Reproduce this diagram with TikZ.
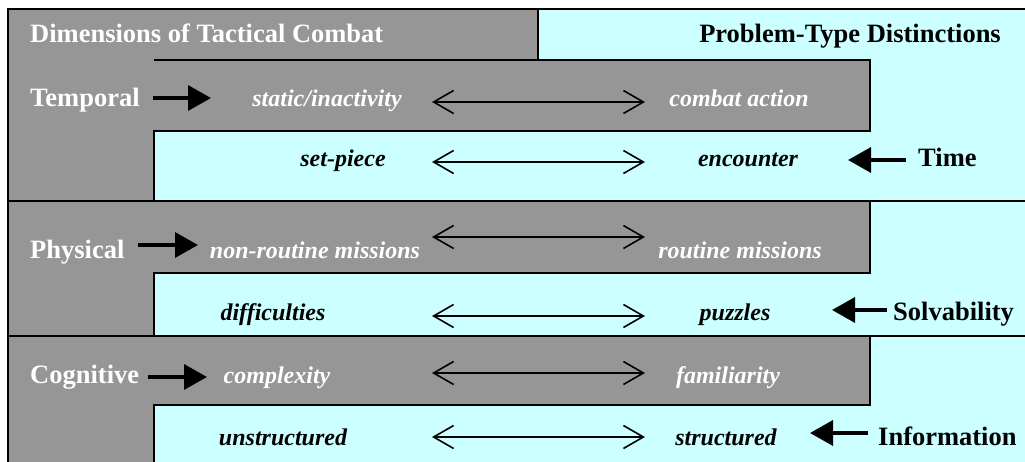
\documentclass[tikz,border=0pt]{standalone}
\usepackage{fontspec}
\setmainfont{Liberation Serif}
\usetikzlibrary{arrows.meta}
\definecolor{panelgray}{RGB}{150,150,150}
\definecolor{panelcyan}{RGB}{204,255,255}

\begin{document}
\begin{tikzpicture}[x=1pt,y=-1pt,
  dimlabel/.style={font=\fontsize{26.5}{30}\selectfont\bfseries, text=white, inner sep=0pt},
  typelabel/.style={font=\fontsize{26.5}{30}\selectfont\bfseries, text=black, inner sep=0pt},
  grayterm/.style={font=\fontsize{24}{28}\selectfont\bfseries\itshape, text=white, inner sep=0pt},
  cyanterm/.style={font=\fontsize{24}{28}\selectfont\bfseries\itshape, text=black, inner sep=0pt},
  cuearrow/.style={line width=3.5pt, -{Triangle[length=23pt,width=25pt]}},
  rangearrow/.style={line width=1.6pt, {Straight Barb[length=20pt,width=23pt]}-{Straight Barb[length=20pt,width=23pt]}},
  frameline/.style={line width=1.5pt}
]
\useasboundingbox (0,0) rectangle (1025,462);
\clip (0,0) rectangle (1025,462);

% panels
\fill[panelcyan] (8,9) rectangle (1040,480);
\fill[panelgray] (8,9) rectangle (538,60);
\fill[panelgray] (8,9) rectangle (154,480);
\fill[panelgray] (154,60) rectangle (870,131);
\fill[panelgray] (154,201) rectangle (870,273);
\fill[panelgray] (154,336) rectangle (870,405);

% outlines
\draw[frameline] (8,480) -- (8,9) -- (1040,9);
\draw[frameline] (538,9) -- (538,60);
\draw[frameline] (154,60) -- (870,60) -- (870,131) -- (154,131) -- (154,201);
\draw[frameline] (8,201) -- (1040,201);
\draw[frameline] (870,201) -- (870,273) -- (154,273) -- (154,336);
\draw[frameline] (8,336) -- (1040,336);
\draw[frameline] (870,336) -- (870,405) -- (154,405) -- (154,480);

% headings
\node[dimlabel, anchor=base west] (dims) at (30,43) {Dimensions of Tactical Combat};
\node[typelabel, anchor=base east] (types) at (1001,43) {Problem-Type Distinctions};

% temporal / time
\node[dimlabel, anchor=base west] (temporal) at (30,107) {Temporal};
\node[grayterm, anchor=base] (static) at (327,107) {static/inactivity};
\node[grayterm, anchor=base] (action) at (739,107) {combat action};
\node[cyanterm, anchor=base] (setpiece) at (343,167) {set-piece};
\node[cyanterm, anchor=base] (encounter) at (748,167) {encounter};
\node[typelabel, anchor=base west] (time) at (918,167) {Time};

% physical / solvability
\node[dimlabel, anchor=base west] (physical) at (30,259) {Physical};
\node[grayterm, anchor=base] (nonroutine) at (315,259) {non-routine missions};
\node[grayterm, anchor=base] (routine) at (740,259) {routine missions};
\node[cyanterm, anchor=base] (difficulties) at (273,320) {difficulties};
\node[cyanterm, anchor=base] (puzzles) at (735,320) {puzzles};
\node[typelabel, anchor=base west] (solvability) at (893,320) {Solvability};

% cognitive / information
\node[dimlabel, anchor=base west] (cognitive) at (30,383) {Cognitive};
\node[grayterm, anchor=base] (complexity) at (277,383) {complexity};
\node[grayterm, anchor=base] (familiarity) at (728,383) {familiarity};
\node[cyanterm, anchor=base] (unstructured) at (283,445) {unstructured};
\node[cyanterm, anchor=base] (structured) at (726,445) {structured};
\node[typelabel, anchor=base west] (information) at (878,445) {Information};

% arrow end points
\coordinate (tA) at (153,98);  \coordinate (tB) at (211,98);
\coordinate (pA) at (138,245); \coordinate (pB) at (198,245);
\coordinate (cA) at (148,377); \coordinate (cB) at (207,377);
\coordinate (timeA) at (906,160); \coordinate (timeB) at (848,160);
\coordinate (solA) at (887,310);  \coordinate (solB) at (832,310);
\coordinate (infA) at (868,433);  \coordinate (infB) at (810,433);

\coordinate (r1L) at (432,102); \coordinate (r1R) at (645,102);
\coordinate (r2L) at (432,162); \coordinate (r2R) at (645,162);
\coordinate (r3L) at (432,237); \coordinate (r3R) at (645,237);
\coordinate (r4L) at (432,316); \coordinate (r4R) at (645,316);
\coordinate (r5L) at (432,373); \coordinate (r5R) at (645,373);
\coordinate (r6L) at (432,437); \coordinate (r6R) at (645,437);

% dimension pointers
\draw[cuearrow] (tA) -- (tB);
\draw[cuearrow] (pA) -- (pB);
\draw[cuearrow] (cA) -- (cB);
\draw[cuearrow] (timeA) -- (timeB);
\draw[cuearrow] (solA) -- (solB);
\draw[cuearrow] (infA) -- (infB);

% continua
\draw[rangearrow] (r1L) -- (r1R);
\draw[rangearrow] (r2L) -- (r2R);
\draw[rangearrow] (r3L) -- (r3R);
\draw[rangearrow] (r4L) -- (r4R);
\draw[rangearrow] (r5L) -- (r5R);
\draw[rangearrow] (r6L) -- (r6R);
\end{tikzpicture}
\end{document}
